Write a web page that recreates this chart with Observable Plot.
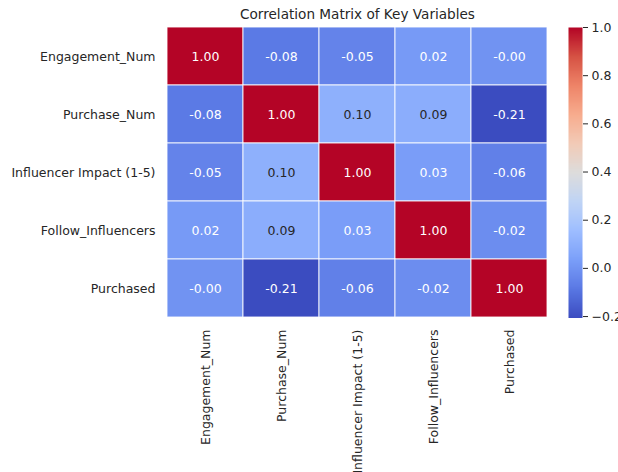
<!DOCTYPE html>
<html>
<head>
<meta charset="utf-8">
<script src="https://cdn.jsdelivr.net/npm/d3@7"></script>
<script src="https://cdn.jsdelivr.net/npm/@observablehq/plot@0.6"></script>
<style>
  html, body { margin: 0; padding: 0; background: #fff; overflow: hidden; }
  #wrap { position: relative; width: 618px; height: 472px; }
  #wrap > svg { position: absolute; top: 0; }
</style>
</head>
<body>
<div id="wrap"></div>
<script>
// ---- data ----
const variables = ["Engagement_Num", "Purchase_Num", "Influencer Impact (1-5)", "Follow_Influencers", "Purchased"];
const rowEngagement = [1.00, -0.08, -0.05, 0.02, -0.003];
const rowPurchaseNum = [-0.08, 1.00, 0.10, 0.09, -0.206];
const rowInfluencer = [-0.05, 0.10, 1.00, 0.03, -0.06];
const rowFollow = [0.02, 0.09, 0.03, 1.00, -0.02];
const rowPurchased = [-0.003, -0.206, -0.06, -0.02, 1.00];
const colorbarTicks = [-0.2, 0.0, 0.2, 0.4, 0.6, 0.8, 1.0];
const title = "Correlation Matrix of Key Variables";

const rows = [rowEngagement, rowPurchaseNum, rowInfluencer, rowFollow, rowPurchased];
const data = [];
rows.forEach((r, i) => r.forEach((v, j) => data.push({row: variables[i], col: variables[j], v})));

const vmin = d3.min(data, d => d.v), vmax = d3.max(data, d => d.v);
const coolwarmStops = ["#3b4cc0", "#5a78e4", "#7b9ff9", "#9ebeff", "#c0d4f5", "#dddcdc",
                       "#f2cbb7", "#f7ac8e", "#ee8468", "#d65244", "#b40426"];
const coolwarm = d3.piecewise(d3.interpolateRgb, coolwarmStops);

function lum(c) {
  const rgb = d3.rgb(c);
  const f = x => { x /= 255; return x <= 0.03928 ? x / 12.92 : Math.pow((x + 0.055) / 1.055, 2.4); };
  return 0.2126 * f(rgb.r) + 0.7152 * f(rgb.g) + 0.0722 * f(rgb.b);
}
const isLight = d => lum(coolwarm((d.v - vmin) / (vmax - vmin))) > 0.408;

const font = "DejaVu Sans, sans-serif";
const colorScale = {type: "linear", domain: [vmin, vmax], interpolate: coolwarm};

const heat = Plot.plot({
  width: 618, height: 472,
  marginLeft: 167, marginRight: 71, marginTop: 27, marginBottom: 155,
  style: {fontFamily: font, fontSize: "12.5px", color: "#262626", background: "transparent", overflow: "visible"},
  x: {domain: variables, padding: 0, label: null, tickRotate: -90, tickSize: 0, tickPadding: 12},
  y: {domain: variables, padding: 0, label: null, tickSize: 0, tickPadding: 12},
  color: colorScale,
  marks: [
    Plot.cell(data, {x: "col", y: "row", fill: "v", stroke: "white", strokeWidth: 1, strokeOpacity: 0.85}),
    Plot.text(data, {x: "col", y: "row", text: d => d.v.toFixed(2), filter: d => !isLight(d), fill: "white", fontSize: 12.5}),
    Plot.text(data, {x: "col", y: "row", text: d => d.v.toFixed(2), filter: d => isLight(d), fill: "#262626", fontSize: 12.5}),
    Plot.text([title], {frameAnchor: "top", lineAnchor: "middle", dy: -13, fill: "#262626", fontSize: 13.6})
  ]
});
heat.style.left = "0px";
document.getElementById("wrap").appendChild(heat);

const barMarks = [];
if (Plot.raster) {
  barMarks.push(Plot.raster({fill: (x, y) => y, x1: 0, x2: 1, y1: vmin, y2: vmax, width: 1, height: 300}));
} else {
  const stops = d3.range(300).map(i => vmin + (vmax - vmin) * i / 299);
  barMarks.push(Plot.rect(stops, {x1: 0, x2: 1, y1: d => d - (vmax - vmin) / 598, y2: d => d + (vmax - vmin) / 598, fill: d => d}));
}
barMarks.push(Plot.axisY(colorbarTicks, {anchor: "right", tickSize: 5, tickPadding: 4, tickFormat: d3.format(".1f"), fontSize: 12.5, label: null}));

const bar = Plot.plot({
  width: 60, height: 472,
  marginLeft: 0, marginRight: 46, marginTop: 27, marginBottom: 154.5,
  style: {fontFamily: font, fontSize: "12.5px", color: "#262626", background: "transparent", overflow: "visible"},
  x: {domain: [0, 1], axis: null},
  y: {domain: [vmin, vmax], axis: null},
  color: colorScale,
  marks: barMarks
});
bar.style.left = "567.5px";
document.getElementById("wrap").appendChild(bar);
</script>
</body>
</html>
